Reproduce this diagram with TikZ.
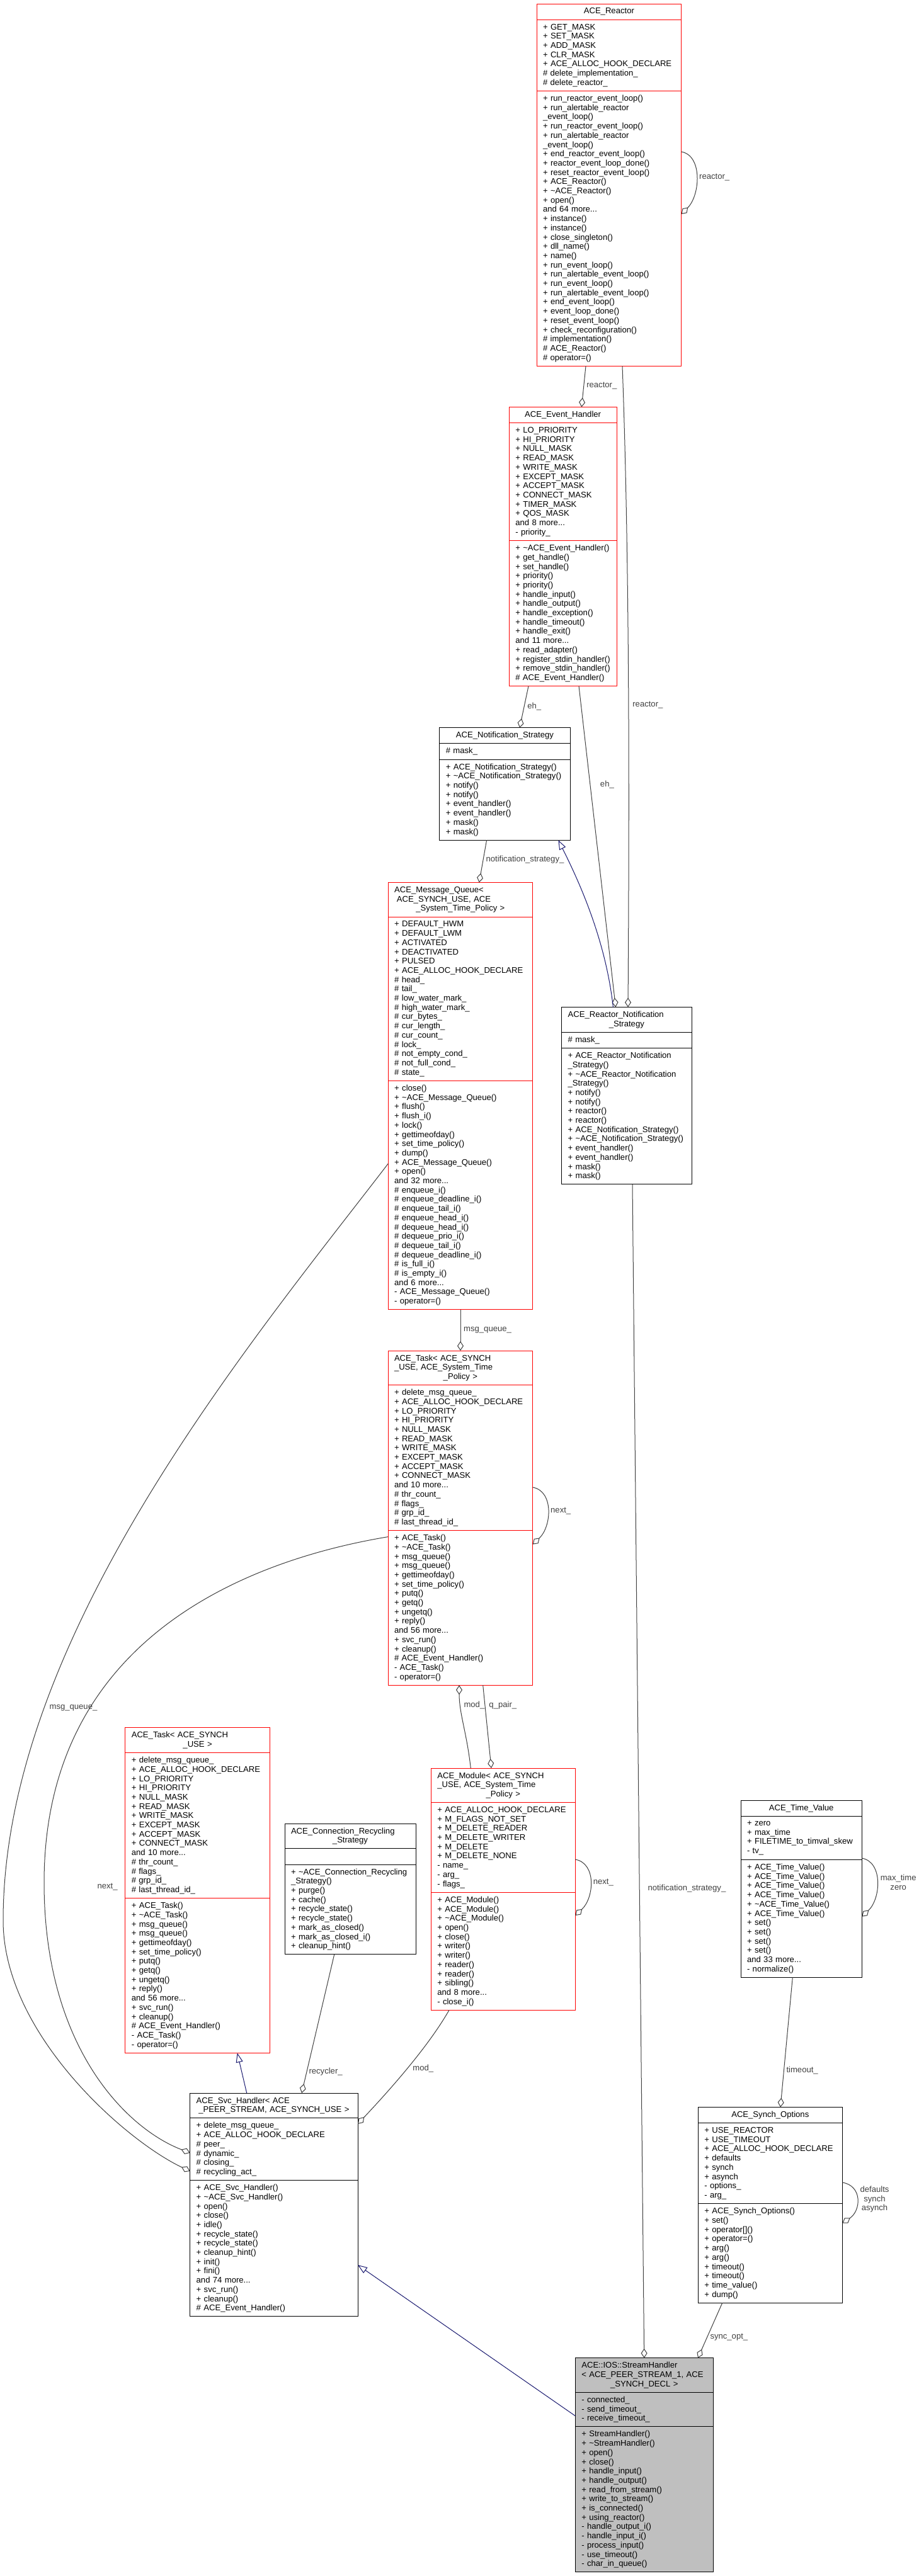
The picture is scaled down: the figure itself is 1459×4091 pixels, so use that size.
\documentclass[tikz,border=0pt]{standalone}
\usepackage{fontspec}
\setmainfont{Liberation Sans}
\usepackage{tikz}
\usetikzlibrary{positioning,arrows.meta}
\definecolor{EdgeGray}{HTML}{404040}
\definecolor{BaseBlue}{HTML}{191970}
\definecolor{ShadeGray}{HTML}{BFBFBF}
\newcommand\umlfont{\fontsize{13.1pt}{14.7pt}\selectfont}
\newcommand\lastln[1]{\hspace*{\fill}#1\hspace*{\fill}\hbox{}}

\begin{document}
\begin{tikzpicture}[x=1pt, y=-1pt,
  every node/.style={font=\umlfont},
  cls/.style={draw=#1, fill=white, line width=1pt, inner xsep=10pt, inner ysep=0pt, outer sep=0pt, align=left},
  rows/.style={minimum height=#1*14.7pt+10.5pt},
  agg/.style={EdgeGray, line width=1pt, -{Diamond[open, length=15pt, width=10pt]}},
  isa/.style={BaseBlue, line width=1pt, -{Triangle[open, length=15pt, width=11pt]}},
  lbl/.style={inner sep=0pt, anchor=west}]
\path[use as bounding box, fill=white] (0,0) rectangle (1459,4091);

\node[cls=red, text width=209.7pt, rows=1, anchor=north west] (rctT) at (852,6) {\lastln{ACE\_Reactor}};
\node[cls=red, text width=209.7pt, rows=7, below=0pt of rctT] (rctA) {+ GET\_MASK\\+ SET\_MASK\\+ ADD\_MASK\\+ CLR\_MASK\\+ ACE\_ALLOC\_HOOK\_DECLARE\\\# delete\_implementation\_\\\# delete\_reactor\_};
\node[cls=red, text width=209.7pt, rows=29, below=0pt of rctA] (rctM) {+ run\_reactor\_event\_loop()\\+ run\_alertable\_reactor\\\_event\_loop()\\+ run\_reactor\_event\_loop()\\+ run\_alertable\_reactor\\\_event\_loop()\\+ end\_reactor\_event\_loop()\\+ reactor\_event\_loop\_done()\\+ reset\_reactor\_event\_loop()\\+ ACE\_Reactor()\\+ \textasciitilde ACE\_Reactor()\\+ open()\\and 64 more...\\+ instance()\\+ instance()\\+ close\_singleton()\\+ dll\_name()\\+ name()\\+ run\_event\_loop()\\+ run\_alertable\_event\_loop()\\+ run\_event\_loop()\\+ run\_alertable\_event\_loop()\\+ end\_event\_loop()\\+ event\_loop\_done()\\+ reset\_event\_loop()\\+ check\_reconfiguration()\\\# implementation()\\\# ACE\_Reactor()\\\# operator=()};

\node[cls=red, text width=150.7pt, rows=1, anchor=north west] (evhT) at (808.3,646.5) {\lastln{ACE\_Event\_Handler}};
\node[cls=red, text width=150.7pt, rows=12, below=0pt of evhT] (evhA) {+ LO\_PRIORITY\\+ HI\_PRIORITY\\+ NULL\_MASK\\+ READ\_MASK\\+ WRITE\_MASK\\+ EXCEPT\_MASK\\+ ACCEPT\_MASK\\+ CONNECT\_MASK\\+ TIMER\_MASK\\+ QOS\_MASK\\and 8 more...\\- priority\_};
\node[cls=red, text width=150.7pt, rows=15, below=0pt of evhA] (evhM) {+ \textasciitilde ACE\_Event\_Handler()\\+ get\_handle()\\+ set\_handle()\\+ priority()\\+ priority()\\+ handle\_input()\\+ handle\_output()\\+ handle\_exception()\\+ handle\_timeout()\\+ handle\_exit()\\and 11 more...\\+ read\_adapter()\\+ register\_stdin\_handler()\\+ remove\_stdin\_handler()\\\# ACE\_Event\_Handler()};

\node[cls=black, text width=187.2pt, rows=1, anchor=north west] (nstT) at (697.8,1155.7) {\lastln{ACE\_Notification\_Strategy}};
\node[cls=black, text width=187.2pt, rows=1, below=0pt of nstT] (nstA) {\# mask\_};
\node[cls=black, text width=187.2pt, rows=8, below=0pt of nstA] (nstM) {+ ACE\_Notification\_Strategy()\\+ \textasciitilde ACE\_Notification\_Strategy()\\+ notify()\\+ notify()\\+ event\_handler()\\+ event\_handler()\\+ mask()\\+ mask()};

\node[cls=black, text width=186.4pt, rows=2, anchor=north west] (rnsT) at (891.6,1599.5) {ACE\_Reactor\_Notification\\\lastln{\_Strategy}};
\node[cls=black, text width=186.4pt, rows=1, below=0pt of rnsT] (rnsA) {\# mask\_};
\node[cls=black, text width=186.4pt, rows=14, below=0pt of rnsA] (rnsM) {+ ACE\_Reactor\_Notification\\\_Strategy()\\+ \textasciitilde ACE\_Reactor\_Notification\\\_Strategy()\\+ notify()\\+ notify()\\+ reactor()\\+ reactor()\\+ ACE\_Notification\_Strategy()\\+ \textasciitilde ACE\_Notification\_Strategy()\\+ event\_handler()\\+ event\_handler()\\+ mask()\\+ mask()};

\node[cls=red, text width=209.3pt, rows=3, anchor=north west] (mqT) at (616.2,1401.5) {ACE\_Message\_Queue<\\\hspace*{3.6pt}ACE\_SYNCH\_USE, ACE\\\lastln{\_System\_Time\_Policy >}};
\node[cls=red, text width=209.3pt, rows=17, below=0pt of mqT] (mqA) {+ DEFAULT\_HWM\\+ DEFAULT\_LWM\\+ ACTIVATED\\+ DEACTIVATED\\+ PULSED\\+ ACE\_ALLOC\_HOOK\_DECLARE\\\# head\_\\\# tail\_\\\# low\_water\_mark\_\\\# high\_water\_mark\_\\\# cur\_bytes\_\\\# cur\_length\_\\\# cur\_count\_\\\# lock\_\\\# not\_empty\_cond\_\\\# not\_full\_cond\_\\\# state\_};
\node[cls=red, text width=209.3pt, rows=24, below=0pt of mqA] (mqM) {+ close()\\+ \textasciitilde ACE\_Message\_Queue()\\+ flush()\\+ flush\_i()\\+ lock()\\+ gettimeofday()\\+ set\_time\_policy()\\+ dump()\\+ ACE\_Message\_Queue()\\+ open()\\and 32 more...\\\# enqueue\_i()\\\# enqueue\_deadline\_i()\\\# enqueue\_tail\_i()\\\# enqueue\_head\_i()\\\# dequeue\_head\_i()\\\# dequeue\_prio\_i()\\\# dequeue\_tail\_i()\\\# dequeue\_deadline\_i()\\\# is\_full\_i()\\\# is\_empty\_i()\\and 6 more...\\- ACE\_Message\_Queue()\\- operator=()};

\node[cls=red, text width=209.7pt, rows=3, anchor=north west] (tskT) at (616,2145) {ACE\_Task< ACE\_SYNCH\\\_USE, ACE\_System\_Time\\\lastln{\_Policy >}};
\node[cls=red, text width=209.7pt, rows=15, below=0pt of tskT] (tskA) {+ delete\_msg\_queue\_\\+ ACE\_ALLOC\_HOOK\_DECLARE\\+ LO\_PRIORITY\\+ HI\_PRIORITY\\+ NULL\_MASK\\+ READ\_MASK\\+ WRITE\_MASK\\+ EXCEPT\_MASK\\+ ACCEPT\_MASK\\+ CONNECT\_MASK\\and 10 more...\\\# thr\_count\_\\\# flags\_\\\# grp\_id\_\\\# last\_thread\_id\_};
\node[cls=red, text width=209.7pt, rows=16, below=0pt of tskA] (tskM) {+ ACE\_Task()\\+ \textasciitilde ACE\_Task()\\+ msg\_queue()\\+ msg\_queue()\\+ gettimeofday()\\+ set\_time\_policy()\\+ putq()\\+ getq()\\+ ungetq()\\+ reply()\\and 56 more...\\+ svc\_run()\\+ cleanup()\\\# ACE\_Event\_Handler()\\- ACE\_Task()\\- operator=()};

\node[cls=red, text width=209.6pt, rows=2, anchor=north west] (tsksT) at (198.8,2743.7) {ACE\_Task< ACE\_SYNCH\\\lastln{\_USE >}};
\node[cls=red, text width=209.6pt, rows=15, below=0pt of tsksT] (tsksA) {+ delete\_msg\_queue\_\\+ ACE\_ALLOC\_HOOK\_DECLARE\\+ LO\_PRIORITY\\+ HI\_PRIORITY\\+ NULL\_MASK\\+ READ\_MASK\\+ WRITE\_MASK\\+ EXCEPT\_MASK\\+ ACCEPT\_MASK\\+ CONNECT\_MASK\\and 10 more...\\\# thr\_count\_\\\# flags\_\\\# grp\_id\_\\\# last\_thread\_id\_};
\node[cls=red, text width=209.6pt, rows=16, below=0pt of tsksA] (tsksM) {+ ACE\_Task()\\+ \textasciitilde ACE\_Task()\\+ msg\_queue()\\+ msg\_queue()\\+ gettimeofday()\\+ set\_time\_policy()\\+ putq()\\+ getq()\\+ ungetq()\\+ reply()\\and 56 more...\\+ svc\_run()\\+ cleanup()\\\# ACE\_Event\_Handler()\\- ACE\_Task()\\- operator=()};

\node[cls=black, text width=188pt, rows=2, anchor=north west] (crsT) at (452,2896) {ACE\_Connection\_Recycling\\\lastln{\_Strategy}};
\node[cls=black, text width=188pt, rows=1, below=0pt of crsT] (crsA) {};
\node[cls=black, text width=188pt, rows=9, below=0pt of crsA] (crsM) {+ \textasciitilde ACE\_Connection\_Recycling\\\_Strategy()\\+ purge()\\+ cache()\\+ recycle\_state()\\+ recycle\_state()\\+ mark\_as\_closed()\\+ mark\_as\_closed\_i()\\+ cleanup\_hint()};

\node[cls=red, text width=209pt, rows=3, anchor=north west] (modT) at (684.3,2808) {ACE\_Module< ACE\_SYNCH\\\_USE, ACE\_System\_Time\\\lastln{\_Policy >}};
\node[cls=red, text width=209pt, rows=9, below=0pt of modT] (modA) {+ ACE\_ALLOC\_HOOK\_DECLARE\\+ M\_FLAGS\_NOT\_SET\\+ M\_DELETE\_READER\\+ M\_DELETE\_WRITER\\+ M\_DELETE\\+ M\_DELETE\_NONE\\- name\_\\- arg\_\\- flags\_};
\node[cls=red, text width=209pt, rows=12, below=0pt of modA] (modM) {+ ACE\_Module()\\+ ACE\_Module()\\+ \textasciitilde ACE\_Module()\\+ open()\\+ close()\\+ writer()\\+ writer()\\+ reader()\\+ reader()\\+ sibling()\\and 8 more...\\- close\_i()};

\node[cls=black, text width=246.3pt, rows=2, anchor=north west] (svcT) at (301.7,3324) {ACE\_Svc\_Handler< ACE\\\lastln{\_PEER\_STREAM, ACE\_SYNCH\_USE >}};
\node[cls=black, text width=246.3pt, rows=6, below=0pt of svcT] (svcA) {+ delete\_msg\_queue\_\\+ ACE\_ALLOC\_HOOK\_DECLARE\\\# peer\_\\\# dynamic\_\\\# closing\_\\\# recycling\_act\_};
\node[cls=black, text width=246.3pt, rows=14, below=0pt of svcA] (svcM) {+ ACE\_Svc\_Handler()\\+ \textasciitilde ACE\_Svc\_Handler()\\+ open()\\+ close()\\+ idle()\\+ recycle\_state()\\+ recycle\_state()\\+ cleanup\_hint()\\+ init()\\+ fini()\\and 74 more...\\+ svc\_run()\\+ cleanup()\\\# ACE\_Event\_Handler()};

\node[cls=black, text width=172.3pt, rows=1, anchor=north west] (tvT) at (1176,2859) {\lastln{ACE\_Time\_Value}};
\node[cls=black, text width=172.3pt, rows=4, below=0pt of tvT] (tvA) {+ zero\\+ max\_time\\+ FILETIME\_to\_timval\_skew\\- tv\_};
\node[cls=black, text width=172.3pt, rows=12, below=0pt of tvA] (tvM) {+ ACE\_Time\_Value()\\+ ACE\_Time\_Value()\\+ ACE\_Time\_Value()\\+ ACE\_Time\_Value()\\+ \textasciitilde ACE\_Time\_Value()\\+ ACE\_Time\_Value()\\+ set()\\+ set()\\+ set()\\+ set()\\and 33 more...\\- normalize()};

\node[cls=black, text width=209pt, rows=1, anchor=north west] (soT) at (1108.3,3346.5) {\lastln{ACE\_Synch\_Options}};
\node[cls=black, text width=209pt, rows=8, below=0pt of soT] (soA) {+ USE\_REACTOR\\+ USE\_TIMEOUT\\+ ACE\_ALLOC\_HOOK\_DECLARE\\+ defaults\\+ synch\\+ asynch\\- options\_\\- arg\_};
\node[cls=black, text width=209pt, rows=10, below=0pt of soA] (soM) {+ ACE\_Synch\_Options()\\+ set()\\+ operator{[}{]}()\\+ operator=()\\+ arg()\\+ arg()\\+ timeout()\\+ timeout()\\+ time\_value()\\+ dump()};

\node[cls=black, fill=ShadeGray, text width=199pt, rows=3, anchor=north west] (shT) at (913.3,3744.7) {ACE::IOS::StreamHandler\\< ACE\_PEER\_STREAM\_1, ACE\\\lastln{\_SYNCH\_DECL >}};
\node[cls=black, fill=ShadeGray, text width=199pt, rows=3, below=0pt of shT] (shA) {- connected\_\\- send\_timeout\_\\- receive\_timeout\_};
\node[cls=black, fill=ShadeGray, text width=199pt, rows=15, below=0pt of shA] (shM) {+ StreamHandler()\\+ \textasciitilde StreamHandler()\\+ open()\\+ close()\\+ handle\_input()\\+ handle\_output()\\+ read\_from\_stream()\\+ write\_to\_stream()\\+ is\_connected()\\+ using\_reactor()\\- handle\_output\_i()\\- handle\_input\_i()\\- process\_input()\\- use\_timeout()\\- char\_in\_queue()};

\draw[agg] ([shift={(229.7,235)}]rctT.north west) .. controls +(34,6) and +(30,-30) .. node[lbl, pos=.5, xshift=4pt] {reactor\_} ([shift={(229.7,334)}]rctT.north west);
\draw[agg] ([xshift=78pt]rctM.south west) -- node[lbl, pos=.48, xshift=4pt] {reactor\_} ([xshift=115pt]evhT.north west);
\draw[agg] ([xshift=136pt]rctM.south west) .. controls +(12,320) and +(2,-300) .. node[lbl, pos=.52, xshift=6pt] {reactor\_} ([xshift=105.4pt]rnsT.north west);
\draw[agg] ([xshift=30.7pt]evhM.south west) -- node[lbl, pos=.49, xshift=4.7pt] {eh\_} ([xshift=127.2pt]nstT.north west);
\draw[agg] ([xshift=110.7pt]evhM.south west) -- node[lbl, pos=.306, xshift=15.6pt] {eh\_} ([xshift=85.8pt]rnsT.north west);
\draw[isa] ([xshift=81.8pt]rnsT.north west) .. controls +(-12,-110) and +(30,60) .. ([xshift=188.6pt]nstM.south west);
\draw[agg] ([xshift=74.8pt]nstM.south west) -- node[lbl, pos=.466, xshift=4pt] {notification\_strategy\_} ([xshift=144.5pt]mqT.north west);
\draw[agg] ([xshift=112.4pt]rnsM.south west) -- node[lbl, pos=.6, xshift=12.8pt] {notification\_strategy\_} ([xshift=109.4pt]shT.north west);
\draw[agg] ([xshift=114.8pt]mqM.south west) -- node[lbl, pos=.5, xshift=4.7pt] {msg\_queue\_} ([xshift=115pt]tskT.north west);
\draw[agg] ([shift={(0,446.5)}]mqT.north west) .. controls (400,2130) and (5,2600) .. node[lbl, pos=.75, xshift=8pt] {msg\_queue\_} (5,3050) .. controls (5,3230) and (200,3400) .. ([shift={(0,124)}]svcT.north west);
\draw[agg] ([shift={(0,295.6)}]tskT.north west) .. controls (380,2480) and (70,2610) .. node[lbl, pos=1, xshift=84pt, yshift=-7pt] {next\_} (70,2990) .. controls (70,3250) and (200,3380) .. ([shift={(0,95)}]svcT.north west);
\draw[agg] ([shift={(229.7,217)}]tskT.north west) .. controls +(34,6) and +(30,-28) .. node[lbl, pos=.5, xshift=4pt] {next\_} ([shift={(229.7,307.6)}]tskT.north west);
\draw[agg] ([xshift=63pt]modT.north west) .. controls +(-6,-55) and +(0,45) .. node[lbl, pos=.75, xshift=5pt] {mod\_} ([xshift=113pt]tskM.south west);
\draw[agg] ([xshift=150.7pt]tskM.south west) -- node[lbl, pos=.245, xshift=6pt] {q\_pair\_} ([xshift=95.7pt]modT.north west);
\draw[agg] ([shift={(229,145)}]modT.north west) .. controls +(34,6) and +(30,-28) .. node[lbl, pos=.5, xshift=4pt] {next\_} ([shift={(229,234)}]modT.north west);
\draw[agg] ([xshift=78.7pt]crsM.south west) -- node[lbl, pos=.845, xshift=3pt] {recycler\_} ([xshift=177.3pt]svcT.north west);
\draw[agg] ([xshift=28.7pt]modM.south west) .. controls +(-33,58) and +(50,-53) .. node[lbl, pos=.5, xshift=8pt] {mod\_} ([shift={(266.3,49)}]svcT.north west);
\draw[isa] ([xshift=90pt]svcT.north west) -- ([xshift=177.9pt]tsksM.south west);
\draw[isa] ([shift={(0,92)}]shT.north west) -- ([shift={(266.3,273)}]svcT.north west);
\draw[agg] ([xshift=82.3pt]tvM.south west) -- node[lbl, pos=.715, xshift=3.5pt] {timeout\_} ([xshift=130.7pt]soT.north west);
\draw[agg] ([shift={(192.3,92)}]tvT.north west) .. controls +(34,6) and +(30,-28) .. node[lbl, pos=.5, xshift=5pt, align=center] {max\_time\\zero} ([shift={(192.3,184.7)}]tvT.north west);
\draw[agg] ([shift={(229,119.5)}]soT.north west) .. controls +(32,5) and +(30,-20) .. node[lbl, pos=.5, xshift=4.5pt, align=center] {defaults\\synch\\asynch} ([shift={(229,184.1)}]soT.north west);
\draw[agg] ([xshift=38.4pt]soM.south west) -- node[lbl, pos=.62, xshift=4.3pt] {sync\_opt\_} ([xshift=194.7pt]shT.north west);
\end{tikzpicture}
\end{document}
